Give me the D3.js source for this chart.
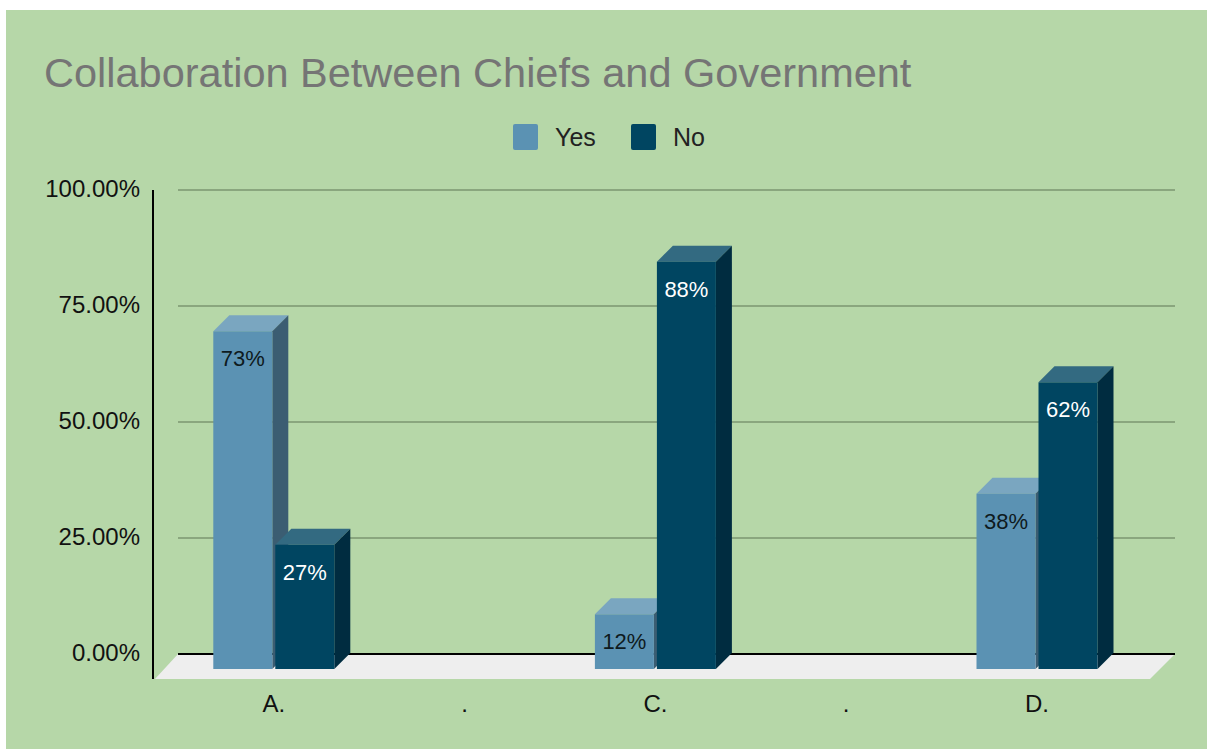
<!DOCTYPE html>
<html>
<head>
<meta charset="utf-8">
<script src="https://cdn.jsdelivr.net/npm/d3@7/dist/d3.min.js"></script>
<style>
  html, body { margin: 0; padding: 0; background: #fff; overflow: hidden; }
  svg { display: block; }
  text { font-family: "Liberation Sans", Arial, sans-serif; }
</style>
</head>
<body>
<svg id="chart" width="1207" height="749"></svg>
<script>
const categories = ["A.", ".", "C.", ".", "D."];
const yesValues = [73, null, 12, null, 38];
const noValues = [27, null, 88, null, 62];
const yTicks = [0, 25, 50, 75, 100];
const seriesNames = ["Yes", "No"];

const palette = {
  Yes: { front: "#5b92b3", top: "#7aa6c0", side: "#3b5d72" },
  No: { front: "#004561", top: "#336a81", side: "#002c40" }
};

const svg = d3.select("#chart");
svg.append("rect").attr("x", 6).attr("y", 10).attr("width", 1201).attr("height", 739).attr("fill", "#b6d7a8");

svg.append("text").attr("x", 44).attr("y", 87).attr("font-size", 41.5).attr("fill", "#757575")
  .text("Collaboration Between Chiefs and Government");

// Legend
const legendItems = [{ name: seriesNames[0], x: 513 }, { name: seriesNames[1], x: 631 }];
legendItems.forEach(d => {
  svg.append("rect").attr("x", d.x).attr("y", 124).attr("width", 25).attr("height", 26).attr("rx", 2)
    .attr("fill", palette[d.name].front);
  svg.append("text").attr("x", d.x + 42).attr("y", 146).attr("font-size", 25).attr("fill", "#222222").text(d.name);
});

const y = d3.scaleLinear().domain([0, 100]).range([654, 190]);
const x = d3.scaleBand().domain(d3.range(categories.length)).range([178.4, 1132.4]);
const depth = 16;      // oblique offset of the bars' back faces
const barWidth = 59;
const barGap = 3;

// Floor of the oblique plot box
const floorPoints = [[178, 654], [1175, 654], [1150, 679], [155, 679]];
svg.append("polygon").attr("points", floorPoints.join(" ")).attr("fill", "#eeeeee");

// Gridlines and value labels
const yAxis = d3.axisLeft(y).tickValues(yTicks).tickSize(0).tickPadding(0)
  .tickFormat(d => d.toFixed(2) + "%");
const yGroup = svg.append("g").attr("transform", "translate(140,0)").call(yAxis);
yGroup.select(".domain").remove();
yGroup.selectAll("text").attr("font-size", 24).attr("fill", "#111111")
  .attr("font-family", '"Liberation Sans", Arial, sans-serif').attr("dy", "0.29em");

svg.append("g").selectAll("line").data(yTicks.filter(t => t > 0)).join("line")
  .attr("x1", 178).attr("x2", 1175).attr("y1", y).attr("y2", y)
  .attr("stroke", "#8aa67e").attr("stroke-width", 2);

// Baseline and vertical axis
svg.append("line").attr("x1", 178).attr("x2", 1175).attr("y1", y(0)).attr("y2", y(0))
  .attr("stroke", "#000").attr("stroke-width", 2);
svg.append("line").attr("x1", 153).attr("x2", 153).attr("y1", 190).attr("y2", 679)
  .attr("stroke", "#000").attr("stroke-width", 2);

// Category labels
const xAxis = d3.axisBottom(x).tickSize(0).tickPadding(0).tickFormat(i => categories[i]);
const xGroup = svg.append("g").attr("transform", "translate(0,695)").call(xAxis);
xGroup.select(".domain").remove();
xGroup.selectAll("text").attr("font-size", 24).attr("fill", "#111111")
  .attr("font-family", '"Liberation Sans", Arial, sans-serif');

// One oblique bar: top and side faces behind the front face, with its label
function drawBar(i, value, series, left, labelColor) {
  if (value == null) return;
  const colors = palette[series];
  const x0 = left, x1 = left + barWidth;
  const yTop = y(value) + depth, yBase = y(0) + depth - 1;
  const g = svg.append("g");
  g.append("polygon")
    .attr("points", [[x0, yTop], [x0 + depth, yTop - depth], [x1 + depth, yTop - depth], [x1, yTop]].join(" "))
    .attr("fill", colors.top);
  g.append("polygon")
    .attr("points", [[x1, yTop], [x1 + depth, yTop - depth], [x1 + depth, yBase - depth], [x1, yBase]].join(" "))
    .attr("fill", colors.side);
  g.append("rect").attr("x", x0).attr("y", yTop).attr("width", barWidth).attr("height", yBase - yTop)
    .attr("fill", colors.front);
  g.append("text").attr("x", (x0 + x1) / 2).attr("y", yTop + 35).attr("text-anchor", "middle")
    .attr("font-size", 22).attr("fill", labelColor).text(value + "%");
}

categories.forEach((c, i) => {
  const center = x(i) + x.bandwidth() / 2;
  drawBar(i, yesValues[i], "Yes", center - barWidth - barGap / 2, "#0e1a20");
  drawBar(i, noValues[i], "No", center + barGap / 2, "#ffffff");
});
</script>
</body>
</html>
